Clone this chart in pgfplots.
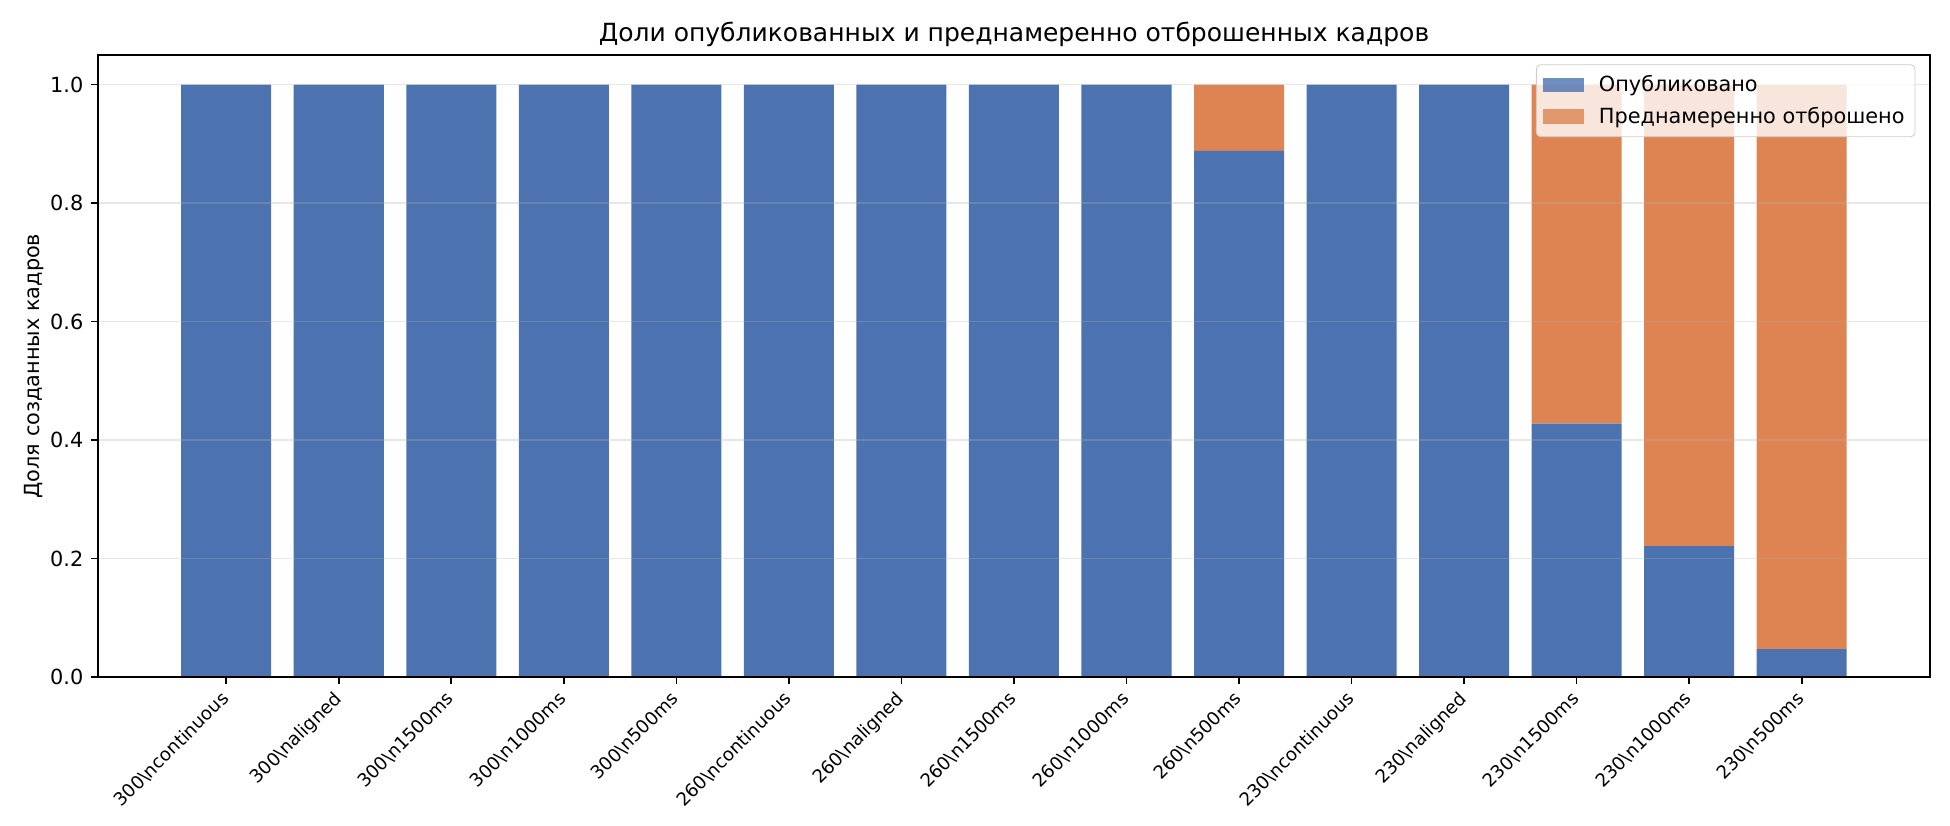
\documentclass[border=0pt]{standalone}
\usepackage{pgfplots}
\pgfplotsset{compat=1.18}
\usepackage{pgfplotstable}
\usepackage{fontspec}
\setmainfont{DejaVu Sans}
\definecolor{cblue}{HTML}{4C72B0}
\definecolor{corange}{HTML}{DD8452}
\definecolor{gridc}{HTML}{B0B0B0}
\pgfplotstableread{
x pub drop
0 1 0
1 1 0
2 1 0
3 1 0
4 1 0
5 1 0
6 1 0
7 1 0
8 1 0
9 0.888 0.112
10 1 0
11 1 0
12 0.428 0.572
13 0.221 0.779
14 0.047 0.953
}\datatable
\begin{document}
\begin{tikzpicture}
\useasboundingbox (-47pt,-71pt) rectangle (889pt,325pt);
\begin{axis}[
  at={(0,0)}, anchor=south west,
  scale only axis,
  width=879.4pt, height=298.6pt,
  ybar stacked,
  bar width=0.8,
  xmin=-1.14, xmax=15.14,
  ymin=0, ymax=1.05,
  xtick=data,
  xticklabels={300\textbackslash ncontinuous,300\textbackslash naligned,300\textbackslash n1500ms,300\textbackslash n1000ms,300\textbackslash n500ms,260\textbackslash ncontinuous,260\textbackslash naligned,260\textbackslash n1500ms,260\textbackslash n1000ms,260\textbackslash n500ms,230\textbackslash ncontinuous,230\textbackslash naligned,230\textbackslash n1500ms,230\textbackslash n1000ms,230\textbackslash n500ms},
  xticklabel style={xshift=-3pt, yshift=-2.5pt, rotate=45, anchor=north east, font=\fontsize{8.75}{10.5}\selectfont, inner sep=0pt},
  ytick={0,0.2,0.4,0.6,0.8,1.0},
  /pgf/number format/fixed,
  /pgf/number format/fixed zerofill,
  /pgf/number format/precision=1,
  /pgf/number format/assume math mode=true,
  yticklabel style={font=\fontsize{10}{12}\selectfont},
  tick pos=left,
  tick align=outside,
  major tick length=3.5pt,
  tick style={black, line width=0.8pt},
  axis line style={black, line width=0.8pt},
  ymajorgrids,
  major grid style={gridc, opacity=0.3, line width=0.8pt},
  axis on top,
  title={Доли опубликованных и преднамеренно отброшенных кадров},
  title style={font=\fontsize{12}{14}\selectfont, yshift=-5.5pt},
  ylabel={Доля созданных кадров},
  ylabel style={font=\fontsize{10}{12}\selectfont, yshift=-4pt},
  legend style={at={(0.992,0.985)}, anchor=north east, font=\fontsize{10}{12}\selectfont,
    draw=black!20, fill=white, fill opacity=0.8, text opacity=1, rounded corners=2pt,
    row sep=2pt, inner xsep=3pt, inner ysep=3pt},
  legend cell align=left,
  legend image code/.code={\fill[#1, draw=none, sharp corners] (0pt,-3.5pt) rectangle (20pt,3.5pt); \path (25pt,0pt);},
]
\addplot[fill=cblue, draw=none] table[x=x, y=pub] {\datatable};
\addlegendentry{Опубликовано}
\addplot[fill=corange, draw=none] table[x=x, y=drop] {\datatable};
\addlegendentry{Преднамеренно отброшено}
\end{axis}
\end{tikzpicture}
\end{document}
